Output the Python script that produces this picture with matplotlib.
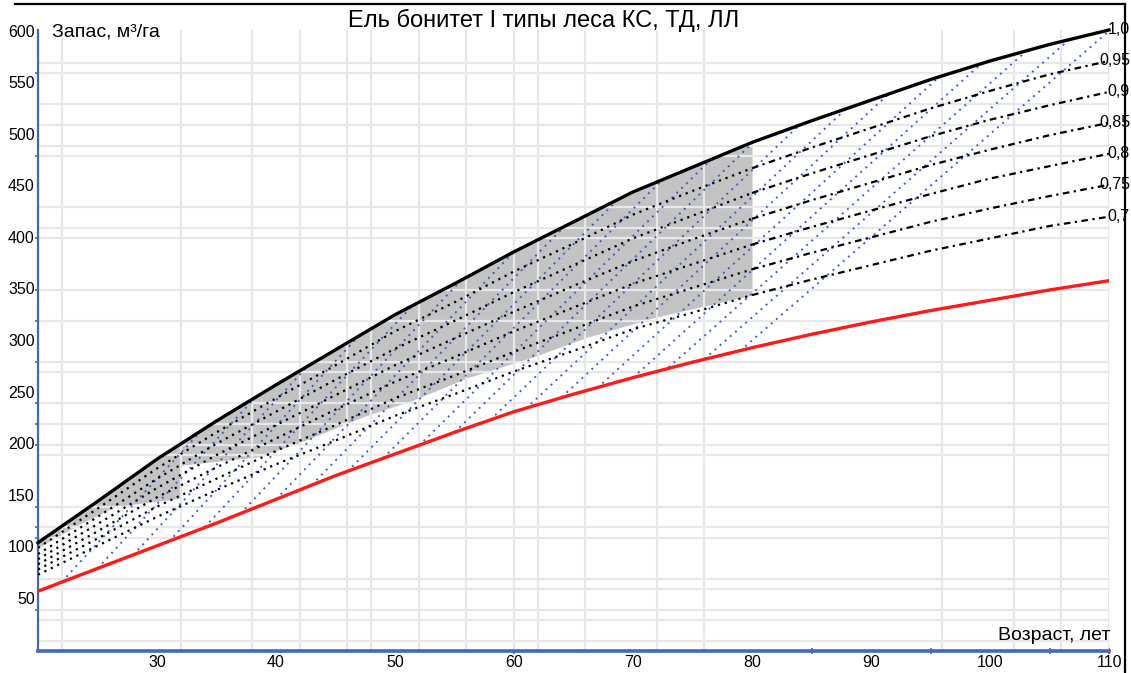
import numpy as np
import matplotlib
matplotlib.use("Agg")
import matplotlib.pyplot as plt
from matplotlib.lines import Line2D

plt.rcParams["font.family"] = ["Liberation Sans", "DejaVu Sans"]

# age grid, years
ages = [20, 25, 30, 35, 40, 45, 50, 55, 60, 65, 70, 75, 80, 85, 90, 95, 100, 105, 110]

# growing stock, m3/ha, by relative density
stock_100 = [105, 145, 186, 223, 258, 292, 326, 356, 387, 416, 445, 469, 493, 514, 534, 554, 572, 588, 602]
stock_095 = [100, 138, 177, 212, 245, 277, 310, 338, 368, 395, 423, 446, 468, 488, 507, 526, 543, 559, 572]
stock_090 = [94, 130, 167, 201, 232, 263, 293, 320, 348, 374, 400, 422, 444, 463, 481, 499, 515, 529, 542]
stock_085 = [89, 123, 158, 190, 219, 248, 277, 303, 329, 354, 378, 399, 419, 437, 454, 471, 486, 500, 512]
stock_080 = [84, 116, 149, 178, 206, 234, 261, 285, 310, 333, 356, 375, 394, 411, 427, 443, 458, 470, 482]
stock_075 = [79, 109, 140, 167, 194, 219, 245, 267, 290, 312, 334, 352, 370, 386, 401, 416, 429, 441, 452]
stock_070 = [74, 102, 130, 156, 181, 204, 228, 249, 271, 291, 312, 328, 345, 360, 374, 388, 400, 412, 421]
density_labels = ["0,95", "0,9", "0,85", "0,8", "0,75", "0,7"]

# lower (red) curve
stock_min = [58, 80, 102, 124, 147, 170, 191, 212, 232, 249, 265, 280, 294, 307, 319, 330, 340, 350, 359]

# shaded zone: lower edge, the upper edge follows stock_100
zone_ages = [20, 23.5, 26.5, 31.9, 31.9, 38.4, 42, 47.3, 51.5, 56.1, 61.6, 66.1, 71.7, 80]
zone_low = [100, 123, 140, 148, 180, 188, 202, 227, 243, 265, 285, 304, 323, 345]

# blue dotted growth lines: start age, start stock, rise per year
blue_a0 = [22, 25, 28, 31, 34, 37, 40, 43, 46, 49, 52, 55, 58, 61, 64, 67, 70, 73, 76, 79]
blue_v0 = [67, 80, 93, 106, 120, 133, 147, 161, 174, 187, 199, 212, 224, 235, 246, 255,
           265, 275, 283, 291]
blue_rise = [12.5, 12.5, 12.5, 12.5, 12.3, 12.2, 12, 11.8, 11.6, 11.5, 11.3, 11.2, 11,
             10.8, 10.7, 10.5, 10.4, 10.2, 10.1, 10]

x_labels = [30, 40, 50, 60, 70, 80, 90, 100, 110]
y_labels = [50, 100, 150, 200, 250, 300, 350, 400, 450, 500, 550, 600]
grid_x = [22, 32, 38, 42, 46, 48, 52, 56, 60, 62, 66, 72, 76, 96, 102, 106, 110]
grid_y = [10, 30, 40, 60, 70, 110, 120, 140, 190, 200, 220, 240, 270, 280, 320, 350,
          400, 410, 430, 480, 490, 510, 530, 560, 570]
axis_ticks_y = [40, 110, 120, 140, 200, 220, 240, 280, 320, 350, 400, 480, 560]
axis_ticks_x = [60, 85, 95, 105, 110]

W, H = 1131, 673
fig = plt.figure(figsize=(W / 100, H / 100), dpi=100)
ax = fig.add_axes([38 / W, 22 / H, (1109 - 38) / W, (651 - 30) / H])
ax.set_xlim(20, 110)
ax.set_ylim(0, 602)

for gx in grid_x:
    ax.axvline(gx, color="#e8e8e8", lw=1.6, zorder=2)
for gy in grid_y:
    ax.axhline(gy, color="#e8e8e8", lw=1.6, zorder=2)

# shaded zone up to age 80
za = np.array(zone_ages)
top_on_zone = np.interp(za, ages, stock_100)
ax.fill_between(za, zone_low, top_on_zone, color="#c3c3c3", lw=0, zorder=1)

# growth lines run until they meet the full-density curve
for a0, v0, r in zip(blue_a0, blue_v0, blue_rise):
    a = np.linspace(a0, 110, 500)
    v = v0 + r * (a - a0)
    keep = v <= np.interp(a, ages, stock_100)
    ax.plot(a[keep], v[keep], color="#3f62c0", lw=1.4, ls=(0, (1, 2.5)), zorder=3)

# partial density curves: dotted before 80 years, dash-dot after
ages_arr = np.array(ages)
early = ages_arr <= 80
late = ages_arr >= 80
for s in [stock_095, stock_090, stock_085, stock_080, stock_075, stock_070]:
    s = np.array(s)
    ax.plot(ages_arr[early], s[early], color="black", lw=1.6, ls=(0, (1, 2.2)), zorder=4)
    ax.plot(ages_arr[late], s[late], color="black", lw=1.6, ls=(0, (3, 2, 1, 2)), zorder=4)

ax.plot(ages, stock_100, color="black", lw=2.4, zorder=5, clip_on=False)
ax.plot(ages, stock_min, color="#ff1a1a", lw=2.4, zorder=5)

for s, lab in zip([stock_100, stock_095, stock_090, stock_085, stock_080, stock_075, stock_070],
                  ["1,0"] + density_labels):
    ax.annotate(lab, xy=(1130 / W, 0), xycoords=("figure fraction", "data"),
                xytext=(0, s[-1]), textcoords=("offset points", "data"),
                ha="right", va="center", fontsize=11.5, zorder=6)

ax.set_xticks(axis_ticks_x)
ax.set_yticks(axis_ticks_y)
ax.tick_params(axis="both", which="both", length=4, color="#4466bb", labelleft=False,
               labelbottom=False, direction="inout", width=1.2)
for sp in ["top", "right"]:
    ax.spines[sp].set_visible(False)
for sp in ["left", "bottom"]:
    ax.spines[sp].set_color("#4466bb")
    ax.spines[sp].set_linewidth(1.6)
ax.spines["bottom"].set_linewidth(2.6)

for v in y_labels:
    ax.text(-0.003, v, str(v), transform=ax.get_yaxis_transform(), ha="right",
            va="center", fontsize=11.5)
for v in x_labels:
    ax.text(v, -0.019, str(v), transform=ax.get_xaxis_transform(), ha="center",
            va="center", fontsize=11.5)

fig.text(52 / W, 1 - 32 / H, "Запас, м³/га", ha="left", va="center", fontsize=14)
fig.text(1110 / W, 1 - 636 / H, "Возраст, лет", ha="right", va="center", fontsize=14)
fig.text(544 / W, 1 - 20 / H, "Ель бонитет I типы леса КС, ТД, ЛЛ", ha="center",
         va="center", fontsize=17)

# outer frame: top and right edges
fig.add_artist(Line2D([15 / W, 1125 / W], [1 - 4 / H, 1 - 4 / H], color="black", lw=1.6))
fig.add_artist(Line2D([1125 / W, 1125 / W], [0, 1 - 4 / H], color="black", lw=1.6))

fig.savefig("out.png", dpi=100, facecolor="white")
